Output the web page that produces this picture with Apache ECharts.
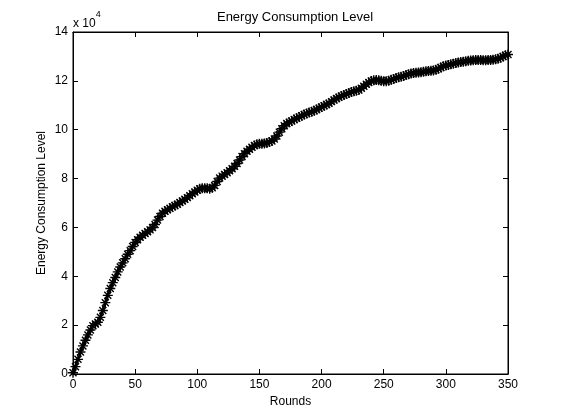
<!DOCTYPE html>
<html>
<head>
<meta charset="utf-8">
<script src="https://cdn.jsdelivr.net/npm/echarts@6/dist/echarts.min.js"></script>
<style>html,body{margin:0;padding:0;background:#fff;}#c{width:561px;height:420px;}</style>
</head>
<body>
<div id="c"></div>
<script>
// Energy values in units of 10^4, read every 2 rounds (0..350)
const energy = [
 0.05,0.30,0.60,0.90,1.15,1.38,1.60,1.80,1.98,2.05,
 2.12,2.32,2.60,2.92,3.22,3.50,3.74,3.95,4.18,4.38,
 4.55,4.72,4.90,5.05,5.22,5.38,5.50,5.60,5.68,5.75,
 5.82,5.90,6.00,6.12,6.30,6.45,6.58,6.66,6.72,6.78,
 6.85,6.90,6.95,7.02,7.08,7.15,7.22,7.30,7.38,7.45,
 7.52,7.58,7.60,7.60,7.60,7.58,7.62,7.72,7.88,8.02,
 8.10,8.17,8.24,8.32,8.40,8.50,8.62,8.76,8.90,9.02,
 9.12,9.20,9.28,9.35,9.40,9.43,9.43,9.44,9.46,9.50,
 9.54,9.62,9.74,9.90,10.04,10.16,10.25,10.31,10.36,10.42,
 10.47,10.52,10.57,10.62,10.66,10.70,10.74,10.78,10.83,10.88,
 10.93,10.98,11.03,11.08,11.15,11.22,11.28,11.33,11.38,11.42,
 11.46,11.50,11.54,11.57,11.60,11.63,11.70,11.78,11.86,11.93,
 11.99,12.02,12.03,12.02,12.00,11.98,11.98,12.00,12.05,12.08,
 12.12,12.15,12.17,12.20,12.24,12.27,12.30,12.32,12.33,12.34,
 12.35,12.37,12.39,12.40,12.41,12.42,12.45,12.50,12.55,12.60,
 12.63,12.65,12.68,12.70,12.73,12.75,12.77,12.78,12.80,12.82,
 12.83,12.84,12.85,12.85,12.85,12.84,12.84,12.85,12.85,12.86,
 12.88,12.90,12.95,13.00,13.05,13.08
];
const rounds = energy.map((_, i) => i * 2);
const xTicks = [0, 50, 100, 150, 200, 250, 300, 350];
const yTicks = [0, 2, 4, 6, 8, 10, 12, 14];

const font = 'Liberation Sans, Arial, Helvetica, sans-serif';
const chart = echarts.init(document.getElementById('c'), null, {renderer: 'canvas'});
const asterisk = 'path://M0,-10L0,10M-10,0L10,0M-7,-7L7,7M-7,7L7,-7';
const tickCommon = {show: true, inside: true, length: 5, lineStyle: {color: '#000', width: 1}};
chart.setOption({
  animation: false,
  backgroundColor: '#fff',
  title: {
    text: 'Energy Consumption Level',
    left: 290, top: 6, textAlign: 'center',
    textStyle: {fontFamily: font, fontSize: 13, fontWeight: 'normal', color: '#000'}
  },
  grid: {left: 73, right: 53, top: 32, bottom: 46, show: true, borderColor: '#000', borderWidth: 1, backgroundColor: '#fff'},
  xAxis: [{
    type: 'value', min: xTicks[0], max: xTicks[xTicks.length - 1], interval: 50,
    name: 'Rounds', nameLocation: 'middle', nameGap: 22, nameMoveOverlap: false,
    nameTextStyle: {fontFamily: font, fontSize: 12, color: '#000'},
    axisLine: {show: true, onZero: false, lineStyle: {color: '#000'}},
    axisTick: tickCommon,
    axisLabel: {fontFamily: font, fontSize: 12, color: '#000', margin: 5},
    splitLine: {show: false}
  }, {
    type: 'value', position: 'top', min: 0, max: 350, interval: 50,
    axisLine: {show: true, onZero: false, lineStyle: {color: '#000'}},
    axisTick: tickCommon, axisLabel: {show: false}, splitLine: {show: false}
  }],
  yAxis: [{
    type: 'value', min: yTicks[0], max: yTicks[yTicks.length - 1], interval: 2,
    name: 'Energy Consumption Level', nameLocation: 'middle', nameGap: 25, nameMoveOverlap: false,
    nameTextStyle: {fontFamily: font, fontSize: 12, color: '#000'},
    axisLine: {show: true, onZero: false, lineStyle: {color: '#000'}},
    axisTick: tickCommon,
    axisLabel: {fontFamily: font, fontSize: 12, color: '#000', margin: 5},
    splitLine: {show: false}
  }, {
    type: 'value', position: 'right', min: 0, max: 14, interval: 2,
    axisLine: {show: true, onZero: false, lineStyle: {color: '#000'}},
    axisTick: tickCommon, axisLabel: {show: false}, splitLine: {show: false}
  }],
  graphic: [{
    type: 'text', left: 73, top: 10,
    style: {
      text: '{a|x 10}{b|4}',
      rich: {
        a: {fontFamily: font, fontSize: 12, fill: '#000', verticalAlign: 'bottom', padding: [8, 0, 0, 0]},
        b: {fontFamily: font, fontSize: 9, fill: '#000', verticalAlign: 'top'}
      }
    }
  }],
  series: [{
    type: 'line',
    data: rounds.map((r, i) => [r, energy[i]]),
    symbol: asterisk, symbolSize: 10, showSymbol: true,
    itemStyle: {color: '#000', borderColor: '#000', borderWidth: 1.4},
    lineStyle: {color: '#000', width: 2},
    clip: true
  }]
});
</script>
</body>
</html>
